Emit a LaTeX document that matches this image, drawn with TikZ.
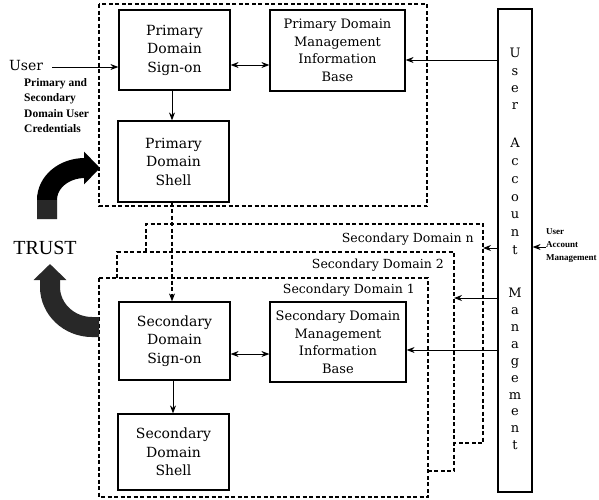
\documentclass[tikz,border=0pt]{standalone}
\usepackage{fontspec}
\setmainfont{DejaVu Serif}
\newfontfamily\timesf{Liberation Serif}
\usetikzlibrary{arrows.meta}
\definecolor{trustgray}{RGB}{40,40,40}
\begin{document}
\begin{tikzpicture}[x=1pt,y=-1pt,
  box/.style={draw, line width=1.2pt, inner sep=0pt, align=center},
  boxtext/.style={font=\fontsize{14}{18.5}\selectfont},
  mibtext/.style={font=\fontsize{13}{17.5}\selectfont},
  dbox/.style={draw, line width=1.3pt, dash pattern=on 4pt off 2.5pt},
  conn/.style={line width=1pt, -{Stealth[length=8pt,width=6pt]}},
  dconn/.style={line width=1pt, {Stealth[length=8pt,width=6pt]}-{Stealth[length=8pt,width=6pt]}},
  dashconn/.style={line width=1.2pt, dash pattern=on 4pt off 2.5pt, -{Stealth[length=8pt,width=6pt]}},
  small/.style={font=\timesf\bfseries\fontsize{11.5}{15.5}\selectfont, align=left, inner sep=0pt},
  letters/.style={font=\fontsize{13}{17.3}\selectfont, align=center, inner sep=0pt},
  trustarrow/.style={line width=20pt, -{Triangle[length=16pt,width=32pt]}}
]
\useasboundingbox (0,0) rectangle (599,499);

% primary domain dashed box
\draw[dbox] (99,4) rectangle (427,206);

% secondary domain n, 2, 1 (stacked)
\draw[dbox] (146,252) -- (146,224) -- (483,224) -- (483,443) -- (454,443);
\draw[dbox] (117,278) -- (117,252) -- (454,252) -- (454,471) -- (428,471);
\draw[dbox] (99,278) rectangle (428,497);

\node[anchor=east, inner sep=0pt, font=\fontsize{12.5}{15}\selectfont] (lbln) at (474,239) {Secondary Domain n};
\node[anchor=east, inner sep=0pt, font=\fontsize{12.5}{15}\selectfont] (lbl2) at (444,265) {Secondary Domain 2};
\node[anchor=east, inner sep=0pt, font=\fontsize{12.5}{15}\selectfont] (lbl1) at (415,290) {Secondary Domain 1};

% primary boxes
\node[box, boxtext, minimum width=111pt, minimum height=80pt] (psign) at (174.5,50) {Primary\\Domain\\Sign-on};
\node[box, mibtext, minimum width=135pt, minimum height=81pt] (pmib) at (337.5,50.5) {Primary Domain\\Management\\Information\\Base};
\node[box, boxtext, minimum width=111pt, minimum height=81pt] (pshell) at (173.5,161.5) {Primary\\Domain\\Shell};

% secondary boxes
\node[box, boxtext, minimum width=111pt, minimum height=78pt] (ssign) at (174.5,341) {Secondary\\Domain\\Sign-on};
\node[box, mibtext, minimum width=136pt, minimum height=80pt] (smib) at (338,342) {Secondary Domain\\Management\\Information\\Base};
\node[box, boxtext, minimum width=111pt, minimum height=76pt] (sshell) at (173.5,452) {Secondary\\Domain\\Shell};

% user account management column
\node[draw, line width=1.2pt, minimum width=34pt, minimum height=483pt, inner sep=0pt] (uam) at (515,250.5) {};
\node[letters, font=\fontsize{13}{17.3}\selectfont] (w1) at (515,79) {U\\s\\e\\r};
\node[letters, font=\fontsize{13}{17.8}\selectfont] (w2) at (515,196.5) {A\\c\\c\\o\\u\\n\\t};
\node[letters, font=\fontsize{13}{16.9}\selectfont] (w3) at (515,369) {M\\a\\n\\a\\g\\e\\m\\e\\n\\t};

% texts on the left
\node[inner sep=0pt, font=\fontsize{14}{16}\selectfont] (user) at (26,65) {User};
\node[small, anchor=north west] (cred) at (24,78) {Primary and\\Secondary\\Domain User\\Credentials};
\node[inner sep=0pt, font=\timesf\fontsize{20}{24}\selectfont] (trust) at (45,248) {TRUST};
\node[inner sep=0pt, anchor=west, align=left, font=\timesf\bfseries\fontsize{9}{13}\selectfont] (mgr) at (546,246) {User\\Account\\Management};

% connectors
\coordinate (userend) at (52,67);
\draw[conn] (userend) -- (psign.west |- userend);
\draw[dconn] (psign.east |- 0,65) -- (pmib.west |- 0,65);
\draw[conn] (psign.south -| 172,0) -- (pshell.north -| 172,0);
\draw[conn] (uam.west |- 0,60) -- (pmib.east |- 0,60);
\draw[dashconn] (pshell.south -| 172,0) -- (ssign.north -| 172,0);
\draw[dconn] (ssign.east |- 0,354) -- (smib.west |- 0,354);
\draw[conn] (ssign.south -| 173,0) -- (sshell.north -| 173,0);
\draw[conn] (uam.west |- 0,350) -- (smib.east |- 0,350);
\coordinate (dn) at (483,248);
\coordinate (d2) at (454,298);
\draw[conn] (uam.west |- dn) -- (dn);
\draw[conn] (uam.west |- d2) -- (d2);
\draw[conn] (mgr.west |- 0,247) -- (uam.east |- 0,247);

% trust arrows
\draw[trustarrow, black] (47,219) -- (47,200) .. controls (47,182) and (64,168) .. (85,168) -- (100,168);
\fill[trustgray] (37,200) rectangle (57,219);
\draw[trustarrow, trustgray] (99,327) -- (92,327) .. controls (69,327) and (50,309) .. (50,287) -- (50,264);
\end{tikzpicture}
\end{document}
